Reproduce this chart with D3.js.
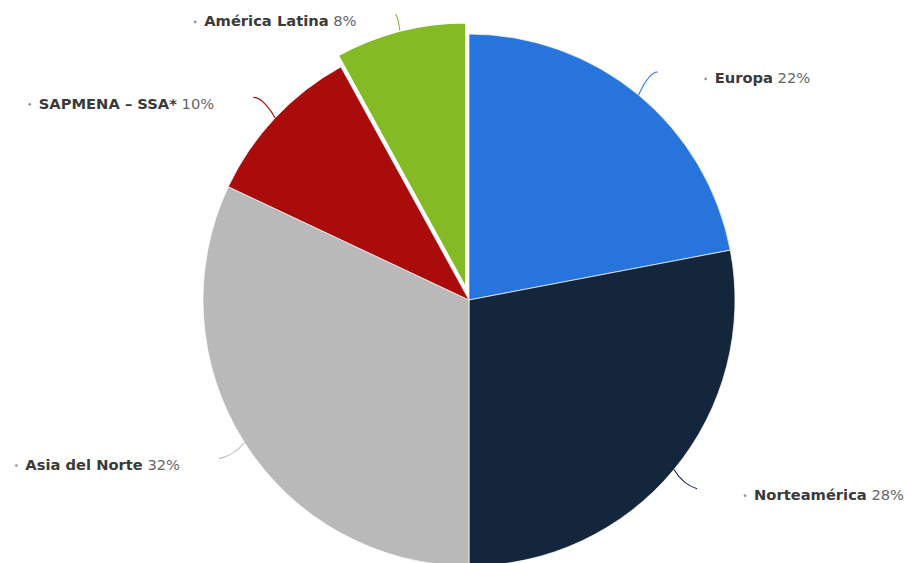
<!DOCTYPE html>
<html>
<head>
<meta charset="utf-8">
<script src="https://cdn.jsdelivr.net/npm/d3@7"></script>
<style>
  body { margin: 0; background: #fff; }
  svg { display: block; font-family: "DejaVu Sans", Verdana, sans-serif; }
</style>
</head>
<body>
<div id="chart"></div>
<script>
var regions = ["Europa", "Norteamérica", "Asia del Norte", "SAPMENA – SSA*", "América Latina"]
var shares = [22, 28, 32, 10, 8]
var colors = ["#2775dc", "#13263c", "#b9b9b9", "#aa0b0b", "#84ba23"]
var sliced = [false, false, false, false, true]

var width = 910, height = 563
var cx = 469, cy = 300, r = 266

var svg = d3.select("#chart").append("svg")
  .attr("width", width)
  .attr("height", height)

var pie = d3.pie().sort(null).value(d => d)
var arcs = pie(shares)

var arc = d3.arc().innerRadius(0).outerRadius(r)

var data = arcs.map((a, i) => {
  var mid = (a.startAngle + a.endAngle) / 2
  var off = sliced[i] ? 12 : 0
  return {
    arc: a, i: i, mid: mid,
    ox: cx + off * Math.sin(mid),
    oy: cy - off * Math.cos(mid)
  }
})

var g = svg.append("g")

g.selectAll("path.slice")
  .data(data)
  .enter()
  .append("path")
  .attr("class", "slice")
  .attr("transform", d => "translate(" + d.ox + "," + d.oy + ")")
  .attr("d", d => arc(d.arc))
  .attr("fill", d => colors[d.i])
  .attr("stroke", "#fff")
  .attr("stroke-width", d => sliced[d.i] ? 2 : 0.7)
  .attr("stroke-linejoin", "round")

// connectors + labels
data.forEach(d => {
  var s = Math.sin(d.mid), c = Math.cos(d.mid)
  var x1 = d.ox + r * s, y1 = d.oy - r * c
  var x2 = d.ox + (r + 30) * s, y2 = d.oy - (r + 30) * c
  if (y2 < 14) {
    var t = (d.oy - 14) / c
    x2 = d.ox + t * s
    y2 = 14
  }
  var right = s > 0
  var qx = x1 + (x2 - x1) * 0.55, qy = y2
  if (Math.abs(y2 - y1) < 20) { qx = x1 + (x2 - x1) * 0.4; qy = y1 + (y2 - y1) * 0.8 }

  svg.append("path")
    .attr("d", "M" + x1 + "," + y1 + " Q" + qx + "," + qy + " " + x2 + "," + y2)
    .attr("fill", "none")
    .attr("stroke", colors[d.i])
    .attr("stroke-width", 1.1)

  var ly = Math.max(y2 + 6, 21)
  var lab = svg.append("g")
  var txt = lab.append("text")
    .attr("y", ly)
    .attr("dy", "0.35em")
    .attr("font-size", 14.7)
  txt.append("tspan")
    .attr("font-weight", "bold")
    .attr("fill", "#3a3a3a")
    .text(regions[d.i])
  txt.append("tspan")
    .attr("fill", "#666")
    .text(" " + shares[d.i] + "%")

  var w = txt.node().getComputedTextLength()
  var tx = right ? x2 + 57 : x2 - 39 - w
  txt.attr("x", tx)
  lab.append("circle")
    .attr("cx", tx - 9)
    .attr("cy", ly + 1)
    .attr("r", 1.4)
    .attr("fill", "#999")
})
</script>
</body>
</html>
